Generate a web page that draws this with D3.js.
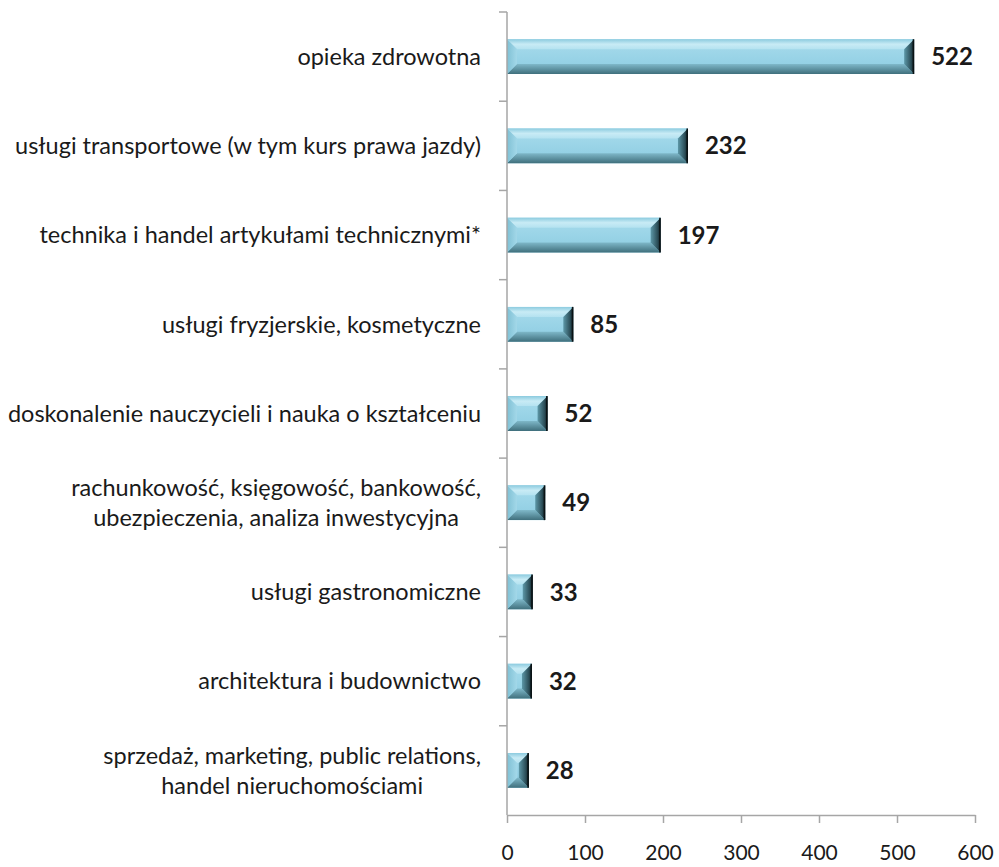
<!DOCTYPE html>
<html>
<head>
<meta charset="utf-8">
<script src="https://cdn.jsdelivr.net/npm/d3@7"></script>
<style>
  html, body { margin: 0; padding: 0; background: #fff; }
  svg { display: block; }
  text { font-family: Lato, "Open Sans", sans-serif; fill: #1a1a1a; }
</style>
</head>
<body>
<svg id="chart" width="999" height="867"></svg>
<script>
// Category labels (line breaks with "\n"), top to bottom
const categories = [
  "opieka zdrowotna",
  "usługi transportowe (w tym kurs prawa jazdy)",
  "technika i handel artykułami technicznymi*",
  "usługi fryzjerskie, kosmetyczne",
  "doskonalenie nauczycieli i nauka o kształceniu",
  "rachunkowość, księgowość, bankowość,\nubezpieczenia, analiza inwestycyjna",
  "usługi gastronomiczne",
  "architektura i budownictwo",
  "sprzedaż, marketing, public relations,\nhandel nieruchomościami"
];
const values = [522, 232, 197, 85, 52, 49, 33, 32, 28];
const xTicks = [0, 100, 200, 300, 400, 500, 600];

const svg = d3.select("#chart");
const margin = { left: 507, right: 24, top: 12, bottom: 52 };
const W = 999, H = 867;

const x = d3.scaleLinear().domain([0, 600]).range([margin.left, W - margin.right]);
const y = d3.scaleBand().domain(categories).range([margin.top, H - margin.bottom]).paddingInner(0.61).paddingOuter(0.305);

const axisColor = "#a6a6a6";
const textColor = "#1a1a1a";

// Gradients for the bevelled bar faces
const defs = svg.append("defs");
function linGrad(id, x1, y1, x2, y2, stops) {
  const g = defs.append("linearGradient").attr("id", id)
    .attr("x1", x1).attr("y1", y1).attr("x2", x2).attr("y2", y2);
  stops.forEach(([o, c]) => g.append("stop").attr("offset", o).attr("stop-color", c));
}
linGrad("faceMain", 0, 0, 0, 1, [[0, "#a9dcec"], [0.5, "#9ad4e7"], [1, "#8ccbe0"]]);
linGrad("faceTop", 0, 0, 0, 1, [[0, "#8ccbdf"], [0.5, "#c8ebf5"], [1, "#b4e2f0"]]);
linGrad("faceBottom", 0, 0, 0, 1, [[0, "#7fb8c9"], [1, "#3f6f7c"]]);
linGrad("faceLeft", 0, 0, 1, 0, [[0, "#7fc0d4"], [1, "#a3d8e9"]]);
linGrad("faceRight", 0, 0, 1, 0, [[0, "#5d98a8"], [0.7, "#2b4d57"], [1, "#0d1a1e"]]);

// Bars
const bars = svg.append("g").selectAll("g").data(categories).join("g");
bars.each(function(c, i) {
  const g = d3.select(this);
  const x0 = x(0), x1 = x(values[i]);
  const y0 = y(c), h = y.bandwidth(), y1 = y0 + h;
  const w = x1 - x0;
  const b = Math.min(10, w / 2, h / 2);
  g.append("rect").attr("x", x0).attr("y", y0).attr("width", w).attr("height", h).attr("fill", "url(#faceMain)");
  const poly = (pts, fill) => g.append("polygon").attr("points", pts.map(p => p.join(",")).join(" ")).attr("fill", fill);
  poly([[x0, y0], [x1, y0], [x1 - b, y0 + b], [x0 + b, y0 + b]], "url(#faceTop)");
  poly([[x0, y1], [x1, y1], [x1 - b, y1 - b], [x0 + b, y1 - b]], "url(#faceBottom)");
  poly([[x0, y0], [x0 + b, y0 + b], [x0 + b, y1 - b], [x0, y1]], "url(#faceLeft)");
  poly([[x1, y0], [x1 - b, y0 + b], [x1 - b, y1 - b], [x1, y1]], "url(#faceRight)");
  g.append("line").attr("x1", x1 - 0.75).attr("x2", x1 - 0.75).attr("y1", y0).attr("y2", y1)
    .attr("stroke", "#0a1214").attr("stroke-width", 1.5);
});

// Value labels
svg.append("g").selectAll("text").data(categories).join("text")
  .attr("x", (c, i) => x(values[i]) + 17)
  .attr("y", c => y(c) + y.bandwidth() / 2)
  .attr("dy", "0.36em")
  .attr("font-size", 24)
  .attr("font-weight", "bold")
  .attr("fill", textColor)
  .text((c, i) => values[i]);

// Y axis (vertical line with ticks at category boundaries)
const yAxis = svg.append("g").attr("stroke", axisColor).attr("stroke-width", 1.5);
yAxis.append("line").attr("x1", x(0)).attr("x2", x(0)).attr("y1", margin.top).attr("y2", H - margin.bottom);
const step = y.step();
d3.range(categories.length).forEach(k => {
  const yy = margin.top + k * step;
  yAxis.append("line").attr("x1", x(0) - 8).attr("x2", x(0)).attr("y1", yy).attr("y2", yy);
});

// X axis
const xAxis = svg.append("g").attr("transform", `translate(0,${H - margin.bottom})`)
  .call(d3.axisBottom(x).tickValues(xTicks).tickSize(8).tickPadding(22).tickSizeOuter(0));
xAxis.select(".domain").attr("stroke", axisColor).attr("stroke-width", 1.5);
xAxis.selectAll(".tick line").attr("stroke", axisColor).attr("stroke-width", 1.5);
xAxis.selectAll(".tick text").attr("font-size", 21).attr("font-family", "Lato, 'Open Sans', sans-serif").attr("fill", textColor);

// Category labels
const labelRight = x(0) - 26;
const labels = svg.append("g");
categories.forEach(c => {
  const lines = c.split("\n");
  const cy = y(c) + y.bandwidth() / 2;
  const lh = 30;
  const t = labels.append("text").attr("font-size", 23.5).attr("fill", textColor);
  const spans = lines.map((ln, j) => t.append("tspan")
    .attr("y", cy + (j - (lines.length - 1) / 2) * lh)
    .attr("dy", "0.35em")
    .text(ln));
  if (lines.length === 1) {
    t.attr("text-anchor", "end");
    spans[0].attr("x", labelRight);
  } else {
    const maxW = d3.max(spans, s => s.node().getComputedTextLength());
    t.attr("text-anchor", "middle");
    spans.forEach(s => s.attr("x", labelRight - maxW / 2));
  }
});
</script>
</body>
</html>
